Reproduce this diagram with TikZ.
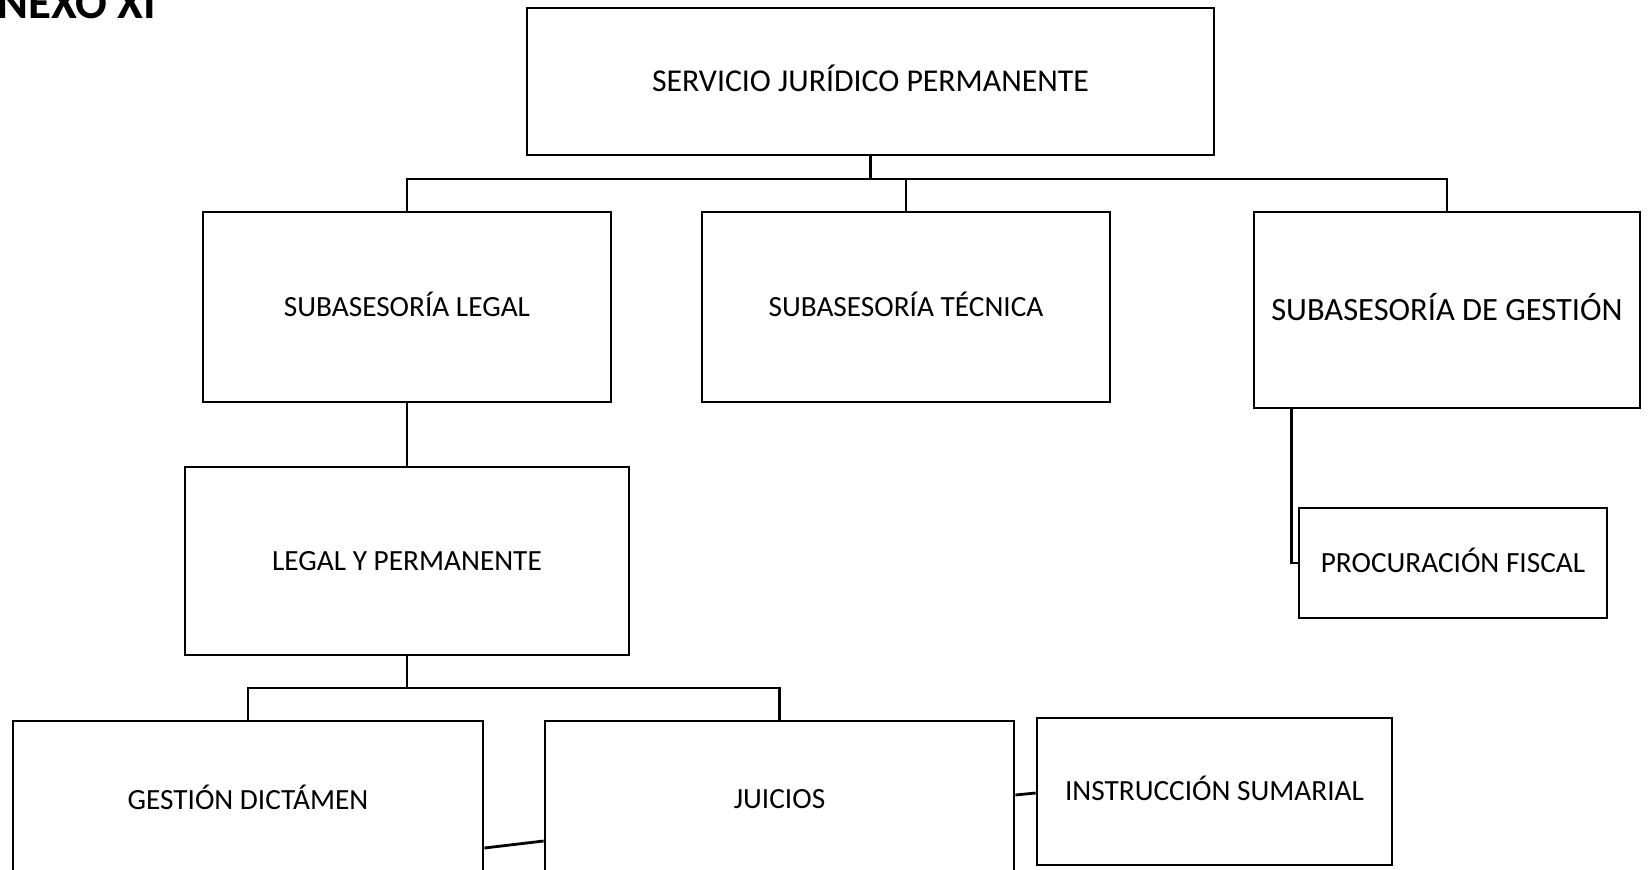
\documentclass[tikz,border=0pt]{standalone}
\usepackage{fontspec}
\setmainfont{Carlito}
\begin{document}
\begin{tikzpicture}[x=1pt,y=-1pt,
  box/.style={draw=black, line width=2.8pt, inner sep=0pt, align=center,
    font=\fontsize{29.3}{32}\selectfont, text height=18.9pt, text depth=0pt},
  conn/.style={draw=black, line width=2.8pt}]
\useasboundingbox (0,0) rectangle (1652,870);
\clip (0,0) rectangle (1652,870);
\fill[white] (0,0) rectangle (1652,870);
\node[anchor=base west, inner sep=0pt, font=\bfseries\fontsize{47}{47}\selectfont] (title) at (-3,18.5) {NEXO XI};
% boxes
\node[box, minimum width=687pt, minimum height=147pt, font=\fontsize{31.8}{34}\selectfont, text height=20.5pt] (top) at (870.5,81.5) {SERVICIO JURÍDICO PERMANENTE};
\node[box, minimum width=408pt, minimum height=190pt] (legal) at (407,307) {SUBASESORÍA LEGAL};
\node[box, minimum width=408pt, minimum height=190pt] (tec) at (906,307) {SUBASESORÍA TÉCNICA};
\node[box, minimum width=386pt, minimum height=196pt, font=\fontsize{32.5}{35}\selectfont, text height=20.9pt] (gs) at (1447,310) {SUBASESORÍA DE GESTIÓN};
\node[box, minimum width=444pt, minimum height=188pt] (lyp) at (407,561) {LEGAL Y PERMANENTE};
\node[box, minimum width=470pt, minimum height=158pt] (gd) at (248,800) {GESTIÓN DICTÁMEN};
\node[box, minimum width=469pt, minimum height=156pt] (ju) at (779.5,799) {JUICIOS};
\node[box, minimum width=355pt, minimum height=147pt] (ins) at (1214.5,791.5) {INSTRUCCIÓN SUMARIAL};
\node[box, minimum width=308pt, minimum height=110pt] (pf) at (1453,563) {PROCURACIÓN FISCAL};
% bus coordinates
\coordinate (busA) at (870.5,179);
\coordinate (busB) at (407,688);
% connectors
\draw[conn] (top.south) -- (busA);
\draw[conn] (legal.north) -- (legal.north |- busA) -- (gs.north |- busA) -- (gs.north);
\draw[conn] (tec.north) -- (tec.north |- busA);
\draw[conn] (legal.south) -- (lyp.north);
\draw[conn] (lyp.south) -- (busB);
\draw[conn] (gd.north) -- (gd.north |- busB) -- (ju.north |- busB) -- (ju.north);
\draw[conn] ([yshift=-48pt]gd.east) -- ([yshift=-42pt]ju.west);
\draw[conn] ([yshift=4pt]ju.east) -- ([yshift=-1.5pt]ins.west);
\draw[conn] ([xshift=39pt]gs.south west) |- (pf.west);
\end{tikzpicture}
\end{document}
